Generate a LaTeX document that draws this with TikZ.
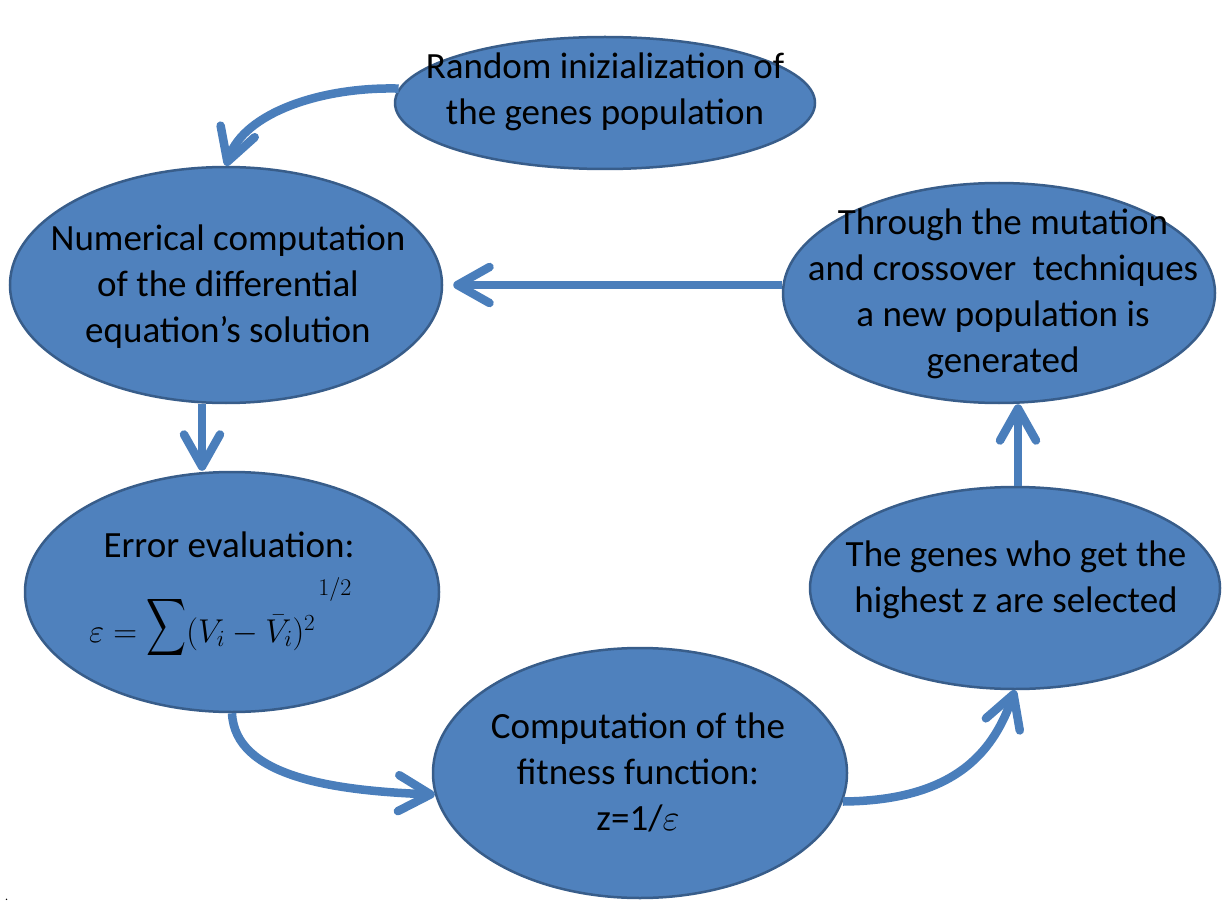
\RequirePackage{fix-cm}
\documentclass[tikz,border=0pt]{standalone}
\usepackage{graphicx}
\usepackage{fontspec}
\setmainfont{Carlito}
\usetikzlibrary{arrows.meta,shapes.geometric}

\definecolor{bubblefill}{HTML}{4F81BD}
\definecolor{bubbleedge}{HTML}{385D8A}
\definecolor{flowblue}{HTML}{4A7EBB}

% tall, narrow summation sign for the error formula
\newcommand{\tallsum}{\mathop{\raisebox{-18pt}{\resizebox*{40pt}{65pt}{\raisebox{\depth}{$\displaystyle\sum$}}}}}

\begin{document}
\begin{tikzpicture}[x=1pt,y=-1pt,
  bubble/.style={ellipse, fill=bubblefill, draw=bubbleedge, line width=2.5pt, inner sep=0pt},
  txt/.style={font=\fontsize{37}{46}\selectfont, align=center, inner sep=0pt, text=black},
  flowarrow/.style={draw=flowblue, line width=8.5pt,
    -{Straight Barb[length=32pt,width=36pt,line cap=round,line join=round]}}
]
\useasboundingbox (0,0) rectangle (1223,901);
\fill[white] (0,0) rectangle (1223,901);

% process steps
\node[bubble, minimum width=420pt, minimum height=132pt] (e1) at (605,103) {};
\node[bubble, minimum width=432pt, minimum height=236pt] (e2) at (226,285) {};
\node[bubble, minimum width=414pt, minimum height=240pt] (e3) at (232,592) {};
\node[bubble, minimum width=414pt, minimum height=250pt] (e4) at (640,773) {};
\node[bubble, minimum width=410pt, minimum height=202pt] (e5) at (1015,588) {};
\node[bubble, minimum width=432pt, minimum height=220pt] (e6) at (999,293) {};

% step texts
\node[txt] (t1) at (605,92) {Random inizialization of\\the genes population};
\node[txt] (t2) at (228,287) {Numerical computation\\of the differential\\equation’s solution};
\node[txt, anchor=base] (t3) at (229,557) {Error evaluation:};
\node[anchor=base west, inner sep=0pt, font=\fontsize{33}{46}\selectfont] (f3) at (89,642)
  {$\varepsilon=\tallsum(V_i-\bar{V}_i)^2\rlap{\hspace{3pt}\smash{\raisebox{47pt}{\fontsize{24}{28}\selectfont$1/2$}}}$};
\node[txt] (t4) at (638,772) {Computation of the\\fitness function:\\z=1/$\varepsilon$};
\node[txt] (t5) at (1016,580) {The genes who get the\\highest z are selected};
\node[txt] (t6) at (1003,294) {Through the mutation\\and crossover~ techniques\\a new population is\\generated};

% connectors
\draw[flowarrow] (e1.176) .. controls +(-77,-2) and +(18,-53) .. (e2.north);
\draw[flowarrow] ([xshift=-24pt]e2.south) -- ([xshift=-30pt]e3.north);
\draw[flowarrow] (e3.south) .. controls +(3,63) and +(-103,-4) .. (e4.186);
\draw[flowarrow] (e4.352) .. controls +(118,-1) and +(-20,56) .. (e5.south);
\draw[flowarrow] ([xshift=3pt]e5.north) -- ([xshift=19pt]e6.south);
\draw[flowarrow, shorten >=10pt] (e2.east -| e6.west) -- (e2.east);

\node[anchor=base west, inner sep=0pt, font=\fontsize{12}{14}\selectfont] (dot) at (5,900) {.};
\end{tikzpicture}
\end{document}
